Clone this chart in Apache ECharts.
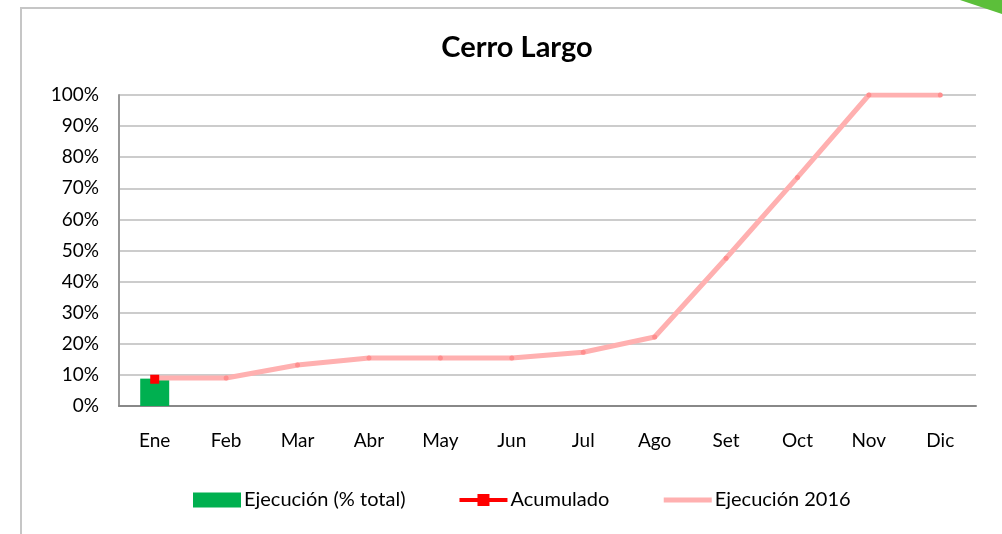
<!DOCTYPE html>
<html>
<head>
<meta charset="utf-8">
<script src="https://cdn.jsdelivr.net/npm/echarts@6/dist/echarts.min.js"></script>
<style>
  html, body { margin: 0; padding: 0; background: #fff; }
  #chart { width: 1002px; height: 534px; }
</style>
</head>
<body>
<div id="chart"></div>
<script>
// datos
const meses = ['Ene', 'Feb', 'Mar', 'Abr', 'May', 'Jun', 'Jul', 'Ago', 'Set', 'Oct', 'Nov', 'Dic']
const ejecucion = [8.8, null, null, null, null, null, null, null, null, null, null, null]
const acumulado = [8.6, null, null, null, null, null, null, null, null, null, null, null]
const ejecucion2016 = [9, 9, 13.2, 15.4, 15.4, 15.4, 17.3, 22.2, 47.5, 73.5, 100, 100]

const fuente = 'Lato, "Open Sans", sans-serif'

const chart = echarts.init(document.getElementById('chart'))
const option = {
  animation: false,
  textStyle: { fontFamily: fuente },
  title: {
    text: 'Cerro Largo',
    left: 512,
    top: 28,
    textAlign: 'center',
    textStyle: { fontSize: 29, fontWeight: 'bold', color: '#000', fontFamily: fuente }
  },
  graphic: [
    {
      type: 'rect',
      shape: { x: 21, y: 8, width: 1000, height: 540 },
      style: { fill: 'none', stroke: '#c6c6c6', lineWidth: 2 },
      silent: true
    },
    {
      type: 'polygon',
      shape: { points: [[960, 0], [1002, 0], [1002, 14]] },
      style: { fill: '#5cbf3a' },
      silent: true
    }
  ],
  legend: {
    bottom: 19,
    left: 188,
    itemGap: 52,
    itemWidth: 48,
    itemHeight: 15,
    textStyle: { fontSize: 20, color: '#000', fontFamily: fuente, padding: [0, 0, 0, -2] },
    data: [
      { name: 'Ejecución (% total)', icon: 'rect' },
      { name: 'Acumulado', lineStyle: { width: 4 } },
      { name: 'Ejecución 2016', itemStyle: { opacity: 0 }, lineStyle: { width: 5 } }
    ]
  },
  grid: {
    left: 119,
    right: 26,
    top: 95,
    bottom: 128
  },
  xAxis: {
    type: 'category',
    data: meses,
    axisLine: { lineStyle: { color: '#888', width: 2 } },
    axisTick: { show: false },
    axisLabel: { fontSize: 19, color: '#000', margin: 25 }
  },
  yAxis: {
    type: 'value',
    min: 0,
    max: 100,
    interval: 10,
    axisLine: { show: true, lineStyle: { color: '#999', width: 2 } },
    axisTick: { show: false },
    axisLabel: { fontSize: 19, color: '#000', margin: 20, formatter: '{value}%' },
    splitLine: { lineStyle: { color: '#bbb', width: 1.5 } }
  },
  series: [
    {
      name: 'Ejecución (% total)',
      type: 'bar',
      data: ejecucion,
      barWidth: 29,
      barGap: '-100%',
      itemStyle: { color: '#00b050' }
    },
    {
      name: 'Ejecución 2016',
      type: 'line',
      data: ejecucion2016,
      symbol: 'circle',
      symbolSize: 5,
      lineStyle: { color: '#ffb0b0', width: 5 },
      itemStyle: { color: '#ff8e8e' },
      z: 3
    },
    {
      name: 'Acumulado',
      type: 'line',
      data: acumulado,
      symbol: 'rect',
      symbolSize: 9,
      lineStyle: { color: '#ff0000', width: 4 },
      itemStyle: { color: '#ff0000' },
      z: 4
    }
  ]
}
chart.setOption(option)
</script>
</body>
</html>
